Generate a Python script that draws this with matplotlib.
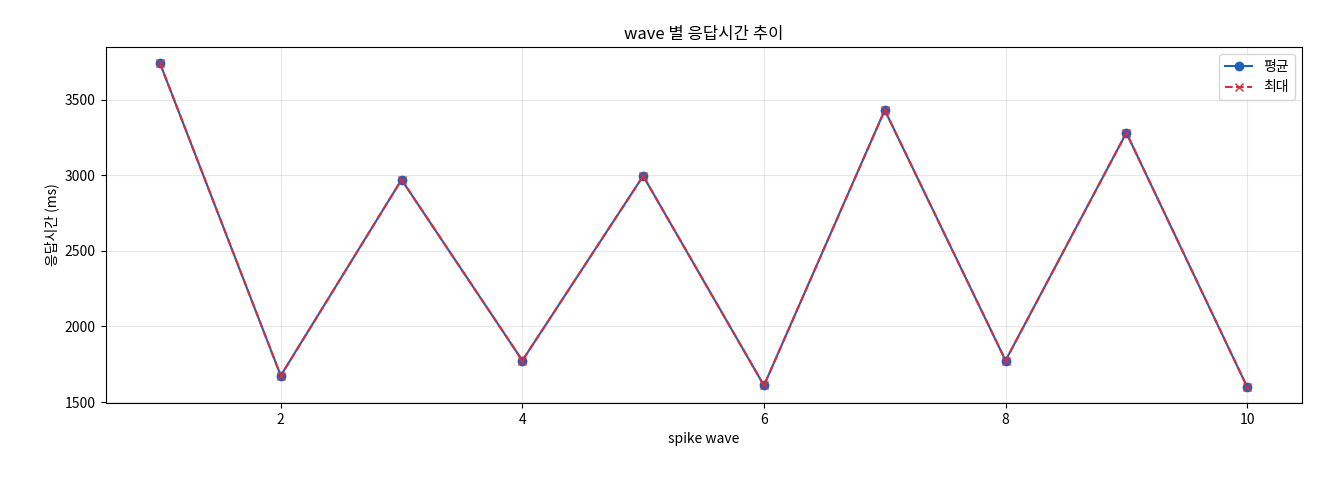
import matplotlib
matplotlib.use("Agg")
import matplotlib.pyplot as plt

plt.rcParams['font.family'] = ['Noto Sans CJK KR', 'DejaVu Sans']

waves = [1, 2, 3, 4, 5, 6, 7, 8, 9, 10]
avg = [3740, 1675, 2970, 1775, 2995, 1610, 3430, 1775, 3280, 1600]
mx = [3740, 1675, 2970, 1775, 2995, 1610, 3430, 1775, 3280, 1600]

fig, ax = plt.subplots(figsize=(13.2, 4.8), dpi=100)
ax.plot(waves, avg, marker='o', color='#1f5fbf', label='평균')
ax.plot(waves, mx, marker='x', linestyle='--', color='#d62f3a', label='최대')
ax.set_title('wave 별 응답시간 추이')
ax.set_xlabel('spike wave')
ax.set_ylabel('응답시간 (ms)')
ax.grid(True, alpha=0.3)
ax.legend(loc='upper right')
fig.subplots_adjust(left=0.08, right=0.986, top=0.902, bottom=0.16)
fig.savefig('out.png')
